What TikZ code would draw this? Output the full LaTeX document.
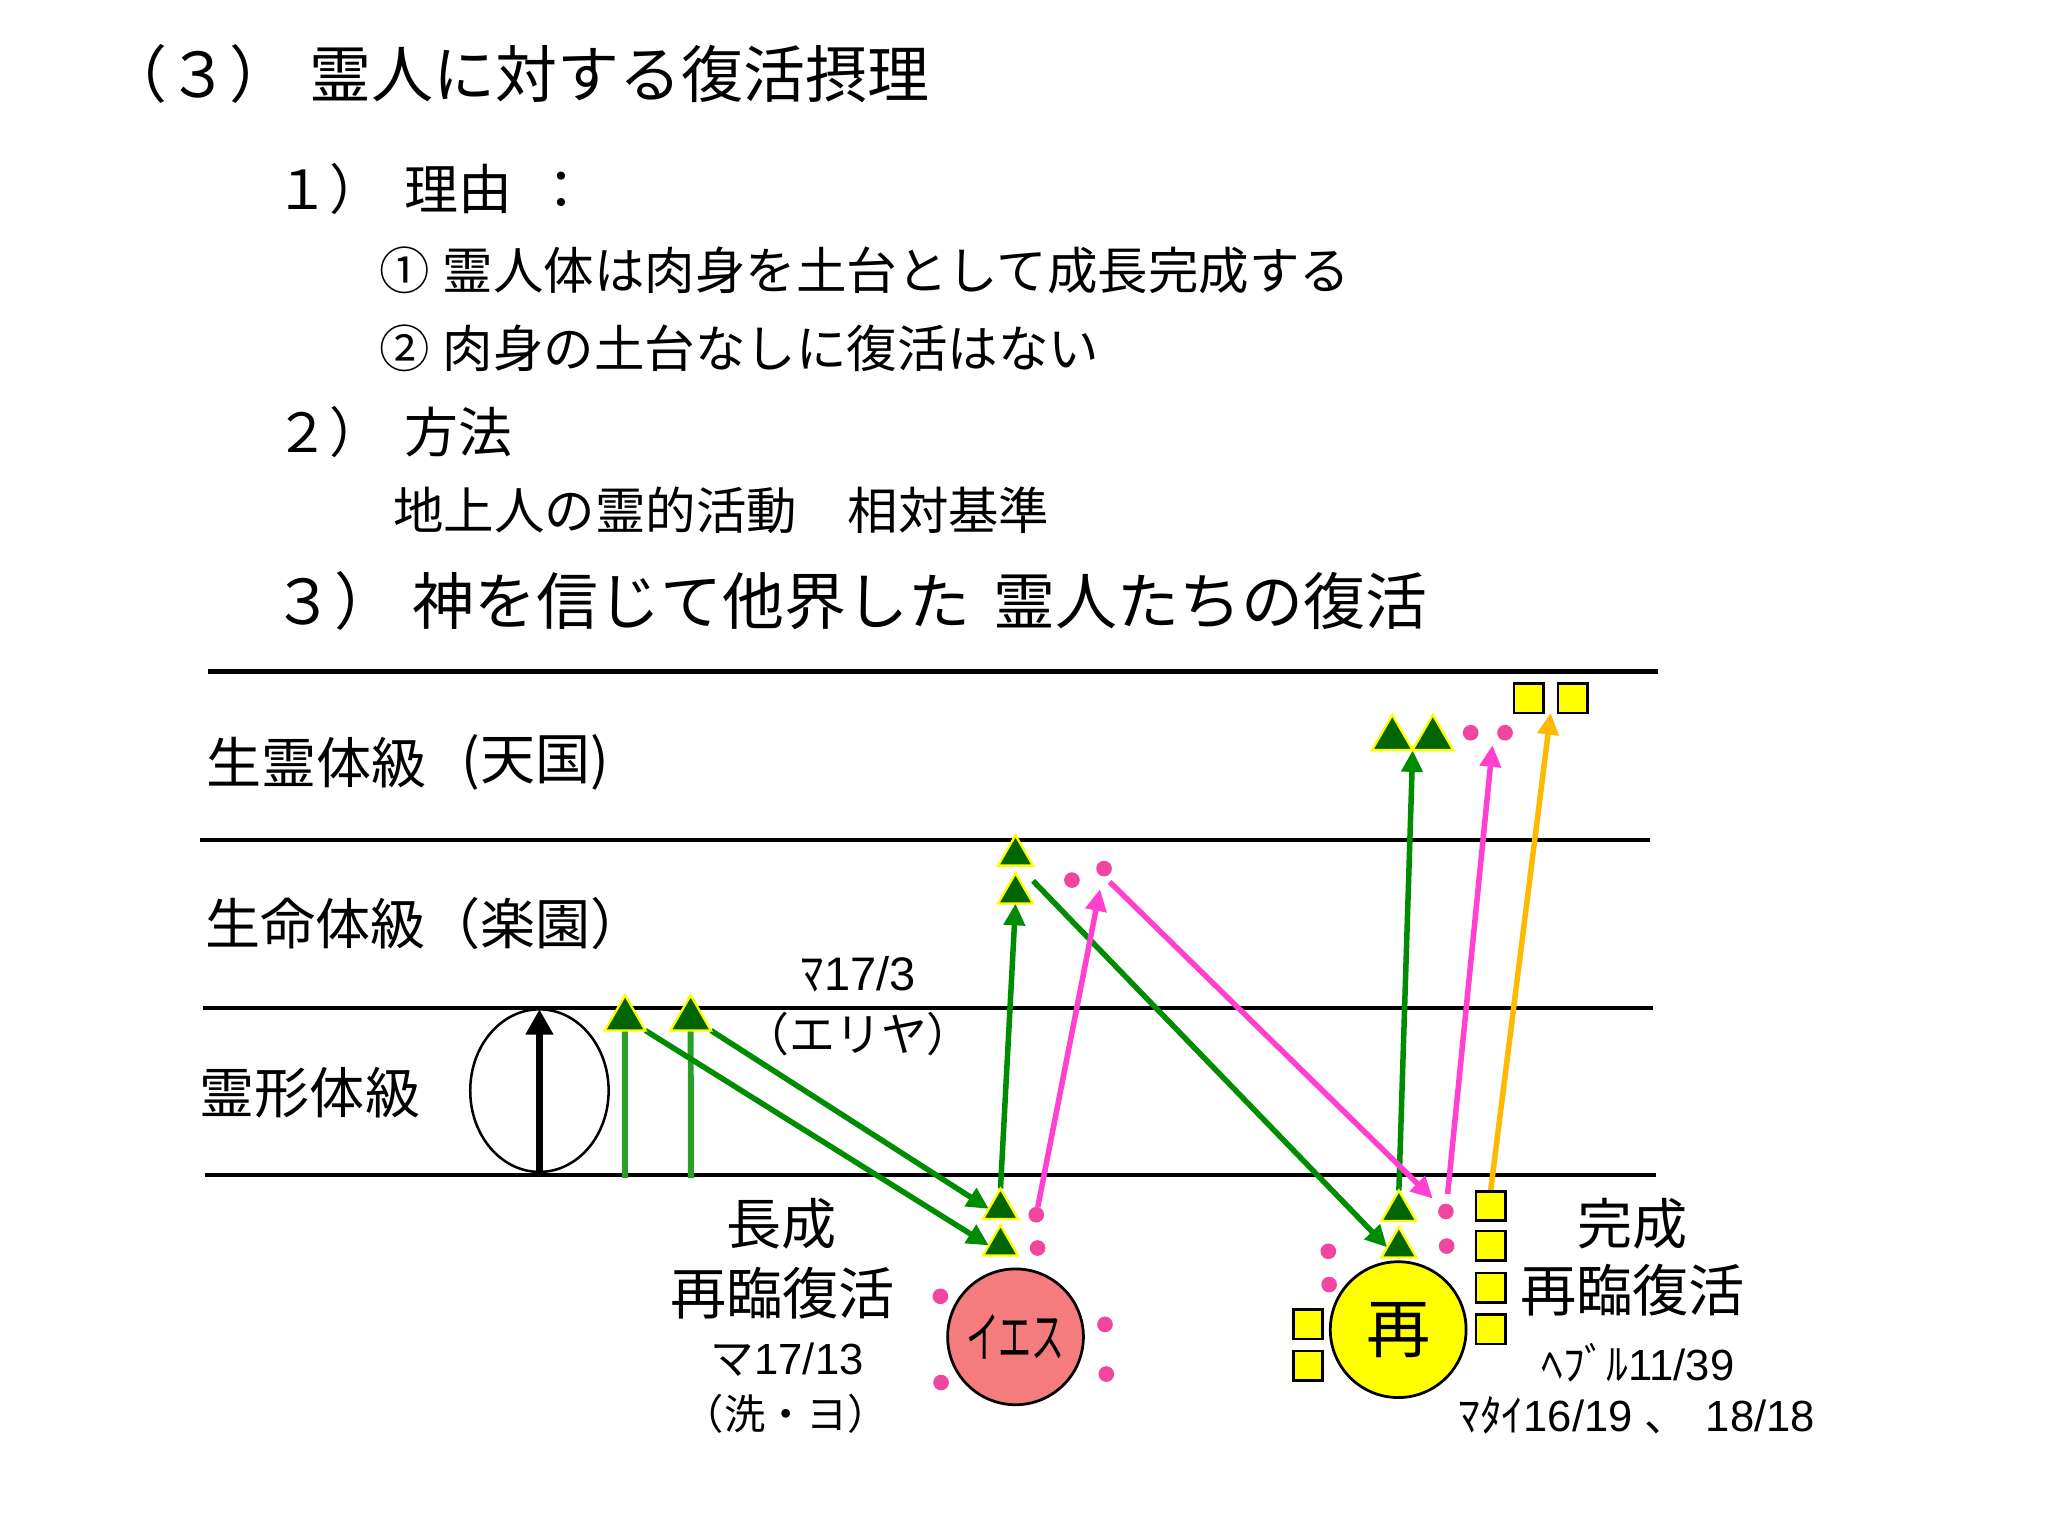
\documentclass[tikz,border=0pt]{standalone}
\usepackage{fontspec}
\usepackage{graphicx}
\setmainfont{Noto Sans CJK JP}
\newfontfamily\arialf{Liberation Sans}
\usetikzlibrary{shapes.geometric,arrows.meta,calc}
\pgfdeclarelayer{bg}
\pgfdeclarelayer{back}
\pgfsetlayers{bg,back,main}
\definecolor{dkgreen}{RGB}{0,100,0}
\definecolor{agreen}{RGB}{0,140,0}
\definecolor{lgreen}{RGB}{40,160,40}
\definecolor{apink}{RGB}{255,64,208}
\definecolor{dpink}{RGB}{240,70,160}
\definecolor{aorange}{RGB}{255,185,0}
\definecolor{salmon}{RGB}{244,124,124}
\definecolor{yel}{RGB}{255,255,0}
\newcommand{\fsz}[1]{\fontsize{#1pt}{#1pt}\selectfont}
\begin{document}
\begin{tikzpicture}[x=0.02cm,y=-0.02cm,
  tri/.style={regular polygon,regular polygon sides=3,fill=dkgreen,draw=yel,line width=1pt,inner sep=0pt,outer sep=0pt,minimum size=0.62cm},
  bigtri/.style={tri,minimum size=0.72cm},
  pdot/.style={circle,fill=dpink,inner sep=0pt,outer sep=0pt,minimum size=0.24cm},
  ysq/.style={rectangle,fill=yel,draw=black,line width=1.1pt,inner sep=0pt,outer sep=0pt,minimum size=0.45cm},
  txt/.style={inner sep=0pt,outer sep=0pt,text=black},
  lvl/.style={line width=2.1pt},
  lvlthin/.style={line width=1.6pt},
  arrtip/.style={-{Triangle[length=9.5pt,width=9pt]}},
  garrow/.style={draw=agreen,line width=2.4pt,arrtip},
  glinev/.style={draw=lgreen,line width=2.6pt},
  parrow/.style={draw=apink,line width=2.4pt,arrtip},
  oarrow/.style={draw=aorange,line width=2.4pt,arrtip},
  bball/.style={circle,draw=black,line width=1.2pt,inner sep=0pt,outer sep=0pt,minimum size=2.08cm}
]
\useasboundingbox (0,0) rectangle (1568,1176);

% ---------- heading texts ----------
\node[txt,font=\fsz{27}] (h0a) at (152,57) {（３）};
\node[txt,font=\fsz{27},anchor=west] (h0b) at (237,57) {霊人に対する復活摂理};
\node[txt,font=\fsz{23.5},anchor=west] (h1a) at (211,145) {１）};
\node[txt,font=\fsz{23.5},anchor=west] (h1b) at (310,145) {理由\hspace{0.4em}：};
\node[txt,font=\fsz{22}] (i1a) at (310,207) {①};
\node[txt,font=\fsz{22},anchor=west] (i1b) at (339,207) {霊人体は肉身を土台として成長完成する};
\node[txt,font=\fsz{22}] (i2a) at (310,267) {②};
\node[txt,font=\fsz{22},anchor=west] (i2b) at (339,267) {肉身の土台なしに復活はない};
\node[txt,font=\fsz{23.5},anchor=west] (h2a) at (211,331) {２）};
\node[txt,font=\fsz{23.5},anchor=west] (h2b) at (310,331) {方法};
\node[txt,font=\fsz{22},anchor=west] (m1) at (301,391) {地上人の霊的活動　相対基準};
\node[txt,font=\fsz{27},anchor=west] (h3a) at (209,460) {３）};
\node[txt,font=\fsz{27},anchor=west] (h3b) at (316,460) {神を信じて他界した};
\node[txt,font=\fsz{27},anchor=west] (h3c) at (761,460) {霊人たちの復活};

% ---------- level labels ----------
\node[txt,font=\fsz{24},anchor=west] (lv1) at (158,584) {生霊体級};
\node[txt,font=\fsz{24}] (lv1b) at (410,584) {(天国)};
\node[txt,font=\fsz{24},anchor=west] (lv2) at (157,707) {生命体級（楽園）};
\node[txt,font=\fsz{24},anchor=west] (lv3) at (153,836.5) {霊形体級};

% ---------- references ----------
\node[txt,font=\fsz{20.5}] (r1) at (657,746) {ﾏ{\arialf 17/3}};
\node[txt,font=\fsz{20}] (r2) at (657,792) {（エリヤ）};
\node[txt,font=\fsz{24}] (c1) at (598.4,937.3) {長成};
\node[txt,font=\fsz{24.5}] (c2) at (599.2,990) {再臨復活};
\node[txt,font=\fsz{19}] (c3) at (602.7,1040.7) {マ{\arialf 17/13}};
\node[txt,font=\fsz{18}] (c4) at (601.8,1082.8) {（洗・ヨ）};
\node[txt,font=\fsz{24}] (d1) at (1250,936.7) {完成};
\node[txt,font=\fsz{24.5}] (d2) at (1250,987.8) {再臨復活};
\node[txt,font=\fsz{19}] (d3) at (1254,1043) {ﾍﾌﾞﾙ{\arialf 11/39}};
\node[txt,font=\fsz{19}] (d4) at (1253,1083.5) {ﾏﾀｲ{\arialf 16/19 }、\hspace{0.4em}{\arialf 18/18}};

% ---------- triangles ----------
\node[bigtri] (t1) at (478.6,780) {};
\node[bigtri] (t2) at (528.8,780) {};
\node[tri] (ja1) at (766,925.5) {};
\node[tri] (ja2) at (766,953.5) {};
\node[tri] (pa1) at (777.5,655) {};
\node[tri] (pa2) at (777.5,684) {};
\node[tri] (ra1) at (1071,927) {};
\node[tri] (ra2) at (1071,955) {};
\node[bigtri] (hv1) at (1066,565.3) {};
\node[bigtri] (hv2) at (1097,565.3) {};

% ---------- dots ----------
\node[pdot] (jd1) at (793.4,930) {};
\node[pdot] (jd2) at (794.4,955.5) {};
\node[pdot] (jd3) at (720,992.5) {};
\node[pdot] (jd4) at (720.5,1058.5) {};
\node[pdot] (jd5) at (846,1014) {};
\node[pdot] (jd6) at (847,1052) {};
\node[pdot] (pd1) at (820.7,673.8) {};
\node[pdot] (pd2) at (845.3,665) {};
\node[pdot] (rd1) at (1107,927.5) {};
\node[pdot] (rd2) at (1107.6,954) {};
\node[pdot] (rd3) at (1017,958) {};
\node[pdot] (rd4) at (1017.6,983.5) {};
\node[pdot] (hd1) at (1126,561) {};
\node[pdot] (hd2) at (1152.3,561) {};

% ---------- squares ----------
\node[ysq] (rs1) at (1141.2,923.3) {};
\node[ysq] (rs2) at (1141.2,953.9) {};
\node[ysq] (rs3) at (1141.2,985.8) {};
\node[ysq] (rs4) at (1141.2,1017.8) {};
\node[ysq] (ls1) at (1001.4,1014) {};
\node[ysq] (ls2) at (1001.4,1045.5) {};
\node[ysq] (ts1) at (1170.5,534.5) {};
\node[ysq] (ts2) at (1204,534.5) {};

% ---------- big circles ----------
\node[bball,fill=salmon,font=\fsz{24}] (jesus) at (777.5,1023.5) {\scalebox{0.6}[1]{イエス}};
\node[bball,fill=yel,font=\fsz{28}] (sai) at (1070.5,1018) {再};

% ---------- soul ellipse with arrow ----------
\node[ellipse,draw=black,line width=1.1pt,minimum width=2.12cm,minimum height=2.49cm,inner sep=0pt,outer sep=0pt] (soul) at (413,835) {};
\draw[line width=3pt,-{Triangle[length=11pt,width=11.5pt]}] (soul.south) -- (soul.north);

% ---------- coordinates ----------
\coordinate (g1) at (478.6,902);
\coordinate (g2) at (529,902);
\coordinate (pstart) at ($(pa1.corner 3)!0.4!(pa2.corner 3)$);
\coordinate (hpink) at ($(hd1)!0.67!(hd2)$);
\coordinate (horange) at ($(ts1.south east)!0.5!(ts2.south west)$);

\begin{pgfonlayer}{bg}
\fill[white] (0,0) rectangle (1568,1176);
\end{pgfonlayer}

\begin{pgfonlayer}{back}
% level lines
\draw[lvl] (159.5,514.3) -- (1269.6,514.3);
\draw[lvlthin] (153,643.2) -- (1263.2,643.2);
\draw[lvlthin] (155.2,771.6) -- (1265.3,771.6);
\draw[lvl] (157,899.6) -- (1267.7,899.6);
% green
\draw[glinev] (g1) -- (t1.south);
\draw[glinev] (g2) -- (t2.south);
\draw[garrow] (t1.corner 3) -- (ja2.west);
\draw[garrow] (t2.corner 3) -- (ja1.west);
\draw[garrow] (ja1.corner 1) -- (pa2.south);
\draw[garrow] (pstart) -- (ra2.west);
\draw[garrow] (ra1.corner 1) -- (hv1.corner 3);
% pink
\draw[parrow,shorten >=0.2cm] (jd1) -- (pd2);
\draw[parrow,shorten <=0.12cm,shorten >=0.16cm] (pd2.south) -- (rd1);
\draw[parrow,shorten <=0.15cm,shorten >=0.19cm] (rd1) -- (hpink);
% orange
\draw[oarrow] (rs1.north) -- (horange);
\end{pgfonlayer}
\end{tikzpicture}
\end{document}
